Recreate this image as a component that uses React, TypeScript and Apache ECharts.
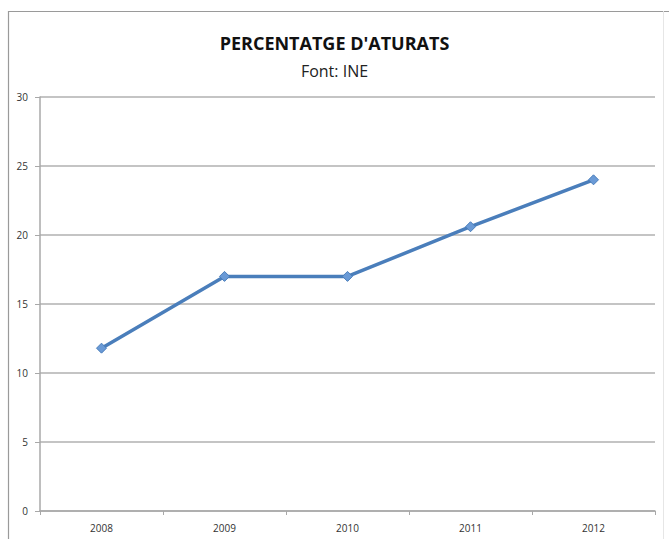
import React, { useEffect, useRef } from "react";
import * as echarts from "echarts";

const titleText = "PERCENTATGE D'ATURATS";
const subtitleText = "Font: INE";
const categories = ["2008", "2009", "2010", "2011", "2012"];
const values = [11.8, 17.0, 17.0, 20.6, 24.0];
const yMin = 0;
const yMax = 30;
const yInterval = 5;

const FONT = "'Liberation Sans Narrow', 'Open Sans', sans-serif";

export default function App() {
  const ref = useRef<HTMLDivElement>(null);
  useEffect(() => {
    if (!ref.current) return;
    const chart = echarts.init(ref.current, undefined, { renderer: "svg" });
    chart.setOption({
      animation: false,
      backgroundColor: "#ffffff",
      textStyle: { fontFamily: FONT },
      title: [
        {
          text: titleText,
          left: "center",
          top: 29,
          textStyle: { fontFamily: FONT, fontSize: 18, fontWeight: "bold", color: "#111" },
        },
        {
          text: subtitleText,
          left: "center",
          top: 58,
          textStyle: { fontFamily: FONT, fontSize: 16, fontWeight: "normal", color: "#222" },
        },
      ],
      graphic: [
        {
          type: "line",
          shape: { x1: 8, y1: 11.5, x2: 669, y2: 11.5 },
          style: { stroke: "#9a9a9a", lineWidth: 1.2 },
          silent: true,
        },
        {
          type: "line",
          shape: { x1: 8.5, y1: 11, x2: 8.5, y2: 539 },
          style: { stroke: "#9a9a9a", lineWidth: 1.2 },
          silent: true,
        },
        {
          type: "line",
          shape: { x1: 663.5, y1: 11, x2: 663.5, y2: 539 },
          style: { stroke: "#e6e6e6", lineWidth: 1 },
          silent: true,
        },
      ],
      grid: { left: 40, right: 14, top: 97, bottom: 28, containLabel: false },
      xAxis: {
        type: "category",
        data: categories,
        boundaryGap: true,
        axisLine: { lineStyle: { color: "#a8a8a8", width: 1.5 } },
        axisTick: { show: true, length: 4, lineStyle: { color: "#a8a8a8" } },
        axisLabel: { fontSize: 10, color: "#333", margin: 12, fontFamily: FONT },
        splitLine: { show: false },
      },
      yAxis: {
        type: "value",
        min: yMin,
        max: yMax,
        interval: yInterval,
        axisLine: { show: true, lineStyle: { color: "#a8a8a8", width: 1.5 } },
        axisTick: { show: true, length: 5, lineStyle: { color: "#a8a8a8" } },
        axisLabel: { fontSize: 10, color: "#333", margin: 12, fontFamily: FONT },
        splitLine: { show: true, lineStyle: { color: "#b0b0b0", width: 1.5 } },
      },
      series: [
        {
          type: "line",
          data: values,
          symbol: "diamond",
          symbolSize: 10,
          lineStyle: { color: "#4a7ebb", width: 3.5 },
          itemStyle: { color: "#6a9ad6", borderColor: "#4a7ebb", borderWidth: 1 },
        },
      ],
    });
    return () => chart.dispose();
  }, []);
  return (
    <div
      ref={ref}
      style={{ position: "fixed", left: 0, top: 0, width: 669, height: 539 }}
    />
  );
}
